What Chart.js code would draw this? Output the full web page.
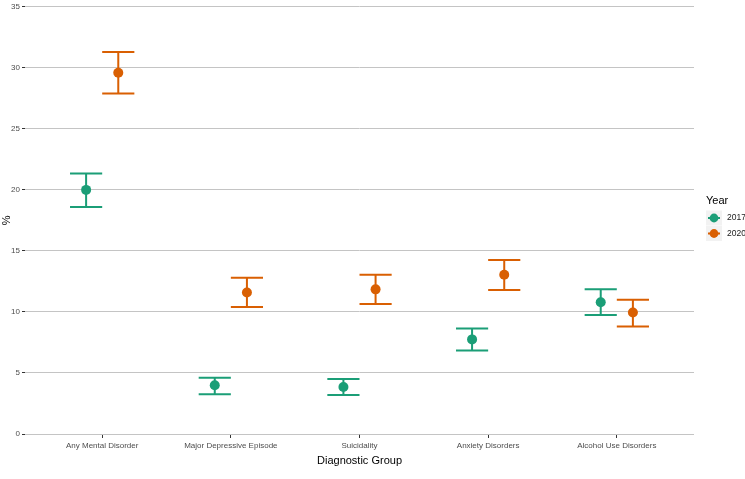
<!DOCTYPE html>
<html>
<head>
<meta charset="utf-8">
<script src="https://cdn.jsdelivr.net/npm/chart.js@4.4.1/dist/chart.umd.min.js"></script>
<style>
html,body{margin:0;padding:0;background:#fff;}
#wrap{width:745px;height:479px;}
</style>
</head>
<body>
<div id="wrap"><canvas id="c" width="745" height="479"></canvas></div>
<script>
const categories = ["Any Mental Disorder","Major Depressive Episode","Suicidality","Anxiety Disorders","Alcohol Use Disorders"];
const years = ["2017","2020"];
const est2017 = [20.0, 4.0, 3.85, 7.75, 10.8];
const lo2017  = [18.6, 3.25, 3.2, 6.85, 9.75];
const hi2017  = [21.35, 4.6, 4.5, 8.65, 11.85];
const est2020 = [29.6, 11.6, 11.85, 13.05, 9.95];
const lo2020  = [27.9, 10.4, 10.65, 11.8, 8.8];
const hi2020  = [31.3, 12.8, 13.05, 14.25, 11.0];
const yTicks = [0,5,10,15,20,25,30,35];
const colors = ["#1B9E77","#D95F02"];

const DODGE = 0.125, CAP = 0.125;
const FONT = "'Liberation Sans', Arial, sans-serif";

function pts(est, lo, hi, off){
  return est.map((v,i)=>({x:i+1+off, y:v, lo:lo[i], hi:hi[i]}));
}

const errorBars = {
  id:'errorBars',
  beforeDatasetsDraw(chart){
    const ctx = chart.ctx, xs = chart.scales.x, ys = chart.scales.y;
    chart.data.datasets.forEach((ds,di)=>{
      ctx.save();
      ctx.strokeStyle = ds.borderColor;
      ctx.lineWidth = 2;
      ctx.lineCap = 'butt';
      ds.data.forEach(p=>{
        const xc = xs.getPixelForValue(p.x);
        const xl = xs.getPixelForValue(p.x-CAP), xr = xs.getPixelForValue(p.x+CAP);
        const yl = ys.getPixelForValue(p.lo), yh = ys.getPixelForValue(p.hi);
        ctx.beginPath();
        ctx.moveTo(xc,yl); ctx.lineTo(xc,yh);
        ctx.moveTo(xl,yl); ctx.lineTo(xr,yl);
        ctx.moveTo(xl,yh); ctx.lineTo(xr,yh);
        ctx.stroke();
      });
      ctx.restore();
    });
  }
};

const legendPlugin = {
  id:'customLegend',
  afterDraw(chart){
    const ctx = chart.ctx;
    ctx.save();
    ctx.fillStyle = '#000';
    ctx.font = `11px ${FONT}`;
    ctx.textBaseline = 'middle';
    ctx.textAlign = 'left';
    ctx.fillText('Year', 706, 201);
    years.forEach((yr,i)=>{
      const cy = 218 + i*15.5;
      ctx.fillStyle = '#f2f2f2';
      ctx.fillRect(706, cy-7.5, 16, 15);
      ctx.strokeStyle = colors[i];
      ctx.lineWidth = 2;
      ctx.beginPath(); ctx.moveTo(708, cy); ctx.lineTo(720, cy); ctx.stroke();
      ctx.fillStyle = colors[i];
      ctx.beginPath(); ctx.arc(714, cy, 4.4, 0, Math.PI*2); ctx.fill();
      ctx.fillStyle = '#1a1a1a';
      ctx.font = `8.5px ${FONT}`;
      ctx.fillText(yr, 727, cy);
    });
    ctx.restore();
  }
};

new Chart(document.getElementById('c'), {
  type:'scatter',
  data:{
    datasets:[
      {label:years[0], data:pts(est2017,lo2017,hi2017,-DODGE), backgroundColor:colors[0], borderColor:colors[0], pointRadius:5, pointHoverRadius:5, borderWidth:0},
      {label:years[1], data:pts(est2020,lo2020,hi2020,DODGE), backgroundColor:colors[1], borderColor:colors[1], pointRadius:5, pointHoverRadius:5, borderWidth:0}
    ]
  },
  options:{
    responsive:false,
    animation:false,
    events:[],
    layout:{padding:{top:3, right:51, bottom:11, left:0}},
    plugins:{legend:{display:false}, tooltip:{enabled:false}},
    scales:{
      x:{
        type:'linear', min:0.4, max:5.6,
        afterBuildTicks(s){ s.ticks = categories.map((c,i)=>({value:i+1})); },
        afterFit(s){ s.height = 34; },
        grid:{drawOnChartArea:false, drawTicks:true, tickLength:4, tickColor:'#333', color:'#333'},
        border:{display:false},
        ticks:{padding:3, color:'#4d4d4d', font:{family:FONT, size:8}, maxRotation:0, autoSkip:false,
          callback:(v)=>categories[Math.round(v)-1] || ''},
        title:{display:true, text:'Diagnostic Group', color:'#000', font:{family:FONT, size:11}, padding:{top:0,bottom:0}}
      },
      y:{
        min:0, max:35,
        afterBuildTicks(s){ s.ticks = yTicks.map(v=>({value:v})); },
        afterFit(s){ s.width = 25; },
        grid:{color:'#c4c4c4', lineWidth:1, drawTicks:true, tickLength:3, tickColor:'#333'},
        border:{display:false},
        ticks:{padding:2, color:'#4d4d4d', font:{family:FONT, size:8}},
        title:{display:true, text:'%', color:'#000', font:{family:FONT, size:11}, padding:{top:0,bottom:0}}
      }
    }
  },
  plugins:[errorBars, legendPlugin]
});
</script>
</body>
</html>
